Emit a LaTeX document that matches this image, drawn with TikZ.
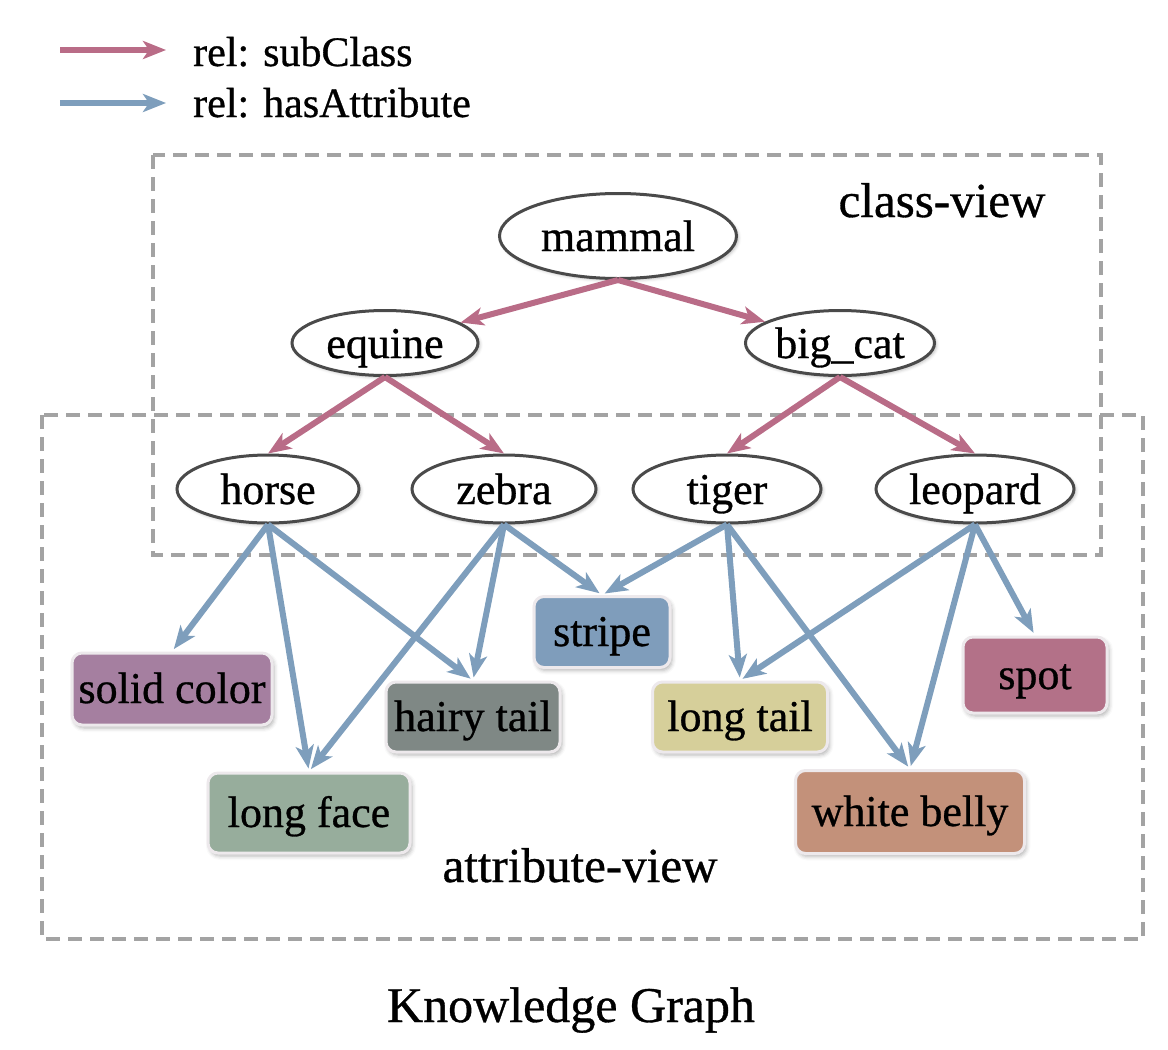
\documentclass[tikz,border=0pt]{standalone}
\usepackage{fontspec}
\setmainfont{Liberation Serif}[FakeBold=0.7]
\usetikzlibrary{arrows.meta,shapes.geometric,shadows,shadows.blur}
\definecolor{relred}{HTML}{B96C87}
\definecolor{relblue}{HTML}{7E9EBC}
\definecolor{ellgray}{HTML}{4A4A4A}
\definecolor{viewgray}{HTML}{A3A3A3}
\definecolor{boxborder}{HTML}{EDE9EC}
\definecolor{csolid}{HTML}{A57FA0}
\definecolor{chairy}{HTML}{7F8885}
\definecolor{cface}{HTML}{97AD9C}
\definecolor{cstripe}{HTML}{7F9DBB}
\definecolor{ctail}{HTML}{D6CF9A}
\definecolor{cspot}{HTML}{B37188}
\definecolor{cbelly}{HTML}{C3917A}
\begin{document}
\begin{tikzpicture}[x=1pt,y=-1pt,
  cls/.style={ellipse, draw=ellgray, line width=3pt, fill=white, inner sep=0pt,
    font=\fontsize{44}{50}\selectfont, text height=30pt, text depth=0pt,
    blur shadow={shadow xshift=2pt, shadow yshift=-2pt, shadow blur radius=3pt, shadow opacity=25}},
  attr/.style={rectangle, rounded corners=10pt, draw=boxborder, line width=3pt, inner sep=0pt,
    font=\fontsize{44}{50}\selectfont, text height=28pt, text depth=0pt,
    blur shadow={shadow xshift=2pt, shadow yshift=-3pt, shadow blur radius=4pt, shadow opacity=30}},
  sub/.style={draw=relred, line width=6pt, -{Stealth[length=23pt,width=18pt,inset=6pt]}},
  has/.style={draw=relblue, line width=6pt, shorten >=3pt, -{Stealth[length=23pt,width=18pt,inset=6pt]}},
  view/.style={draw=viewgray, line width=3.5pt, dash pattern=on 14pt off 8pt},
  lbl/.style={anchor=base, inner sep=0pt},
]
\useasboundingbox (0,0) rectangle (1168,1050);

% view frames
\draw[view] (153,155) rectangle (1101,555);
\draw[view] (42,415) rectangle (1143,939);
\node[lbl, font=\fontsize{49}{55}\selectfont] (cv) at (942,217) {class-view};
\node[lbl, font=\fontsize{49}{55}\selectfont] (av) at (580,882) {attribute-view};
\node[lbl, font=\fontsize{50}{56}\selectfont] (kg) at (571,1022) {Knowledge Graph};

% legend
\coordinate (lra) at (60,50);
\coordinate (lrb) at (166,50);
\coordinate (lba) at (60,103);
\coordinate (lbb) at (166,103);
\draw[sub] (lra) -- (lrb);
\draw[draw=relblue, line width=6pt, -{Stealth[length=23pt,width=18pt,inset=6pt]}] (lba) -- (lbb);
\node[anchor=base west, inner sep=0pt, font=\fontsize{42}{48}\selectfont] (leg1) at (193,66) {rel: subClass};
\node[anchor=base west, inner sep=0pt, font=\fontsize{42}{48}\selectfont] (leg2) at (193,117) {rel: hasAttribute};

% class nodes
\node[cls, minimum width=237pt, minimum height=85pt] (mammal) at (618,236) {mammal};
\node[cls, minimum width=186pt, minimum height=65pt] (equine) at (385,343) {equine};
\node[cls, minimum width=189pt, minimum height=65pt] (bigcat) at (840,343) {big\_cat};
\node[cls, minimum width=182pt, minimum height=68pt] (horse) at (268,489) {horse};
\node[cls, minimum width=184pt, minimum height=68pt] (zebra) at (504,489) {zebra};
\node[cls, minimum width=188pt, minimum height=68pt] (tiger) at (727,489) {tiger};
\node[cls, minimum width=198pt, minimum height=68pt] (leopard) at (975,489) {leopard};

% attribute nodes
\node[attr, fill=csolid, minimum width=200pt, minimum height=72pt] (solid) at (172,689) {solid color};
\node[attr, fill=chairy, minimum width=174pt, minimum height=70pt] (hairy) at (473,717) {hairy tail};
\node[attr, fill=cface, minimum width=202pt, minimum height=80pt] (face) at (309,813) {long face};
\node[attr, fill=cstripe, minimum width=136pt, minimum height=71pt] (stripe) at (602,632) {stripe};
\node[attr, fill=ctail, minimum width=175pt, minimum height=70pt] (ltail) at (740,717) {long tail};
\node[attr, fill=cspot, minimum width=144pt, minimum height=76pt] (spot) at (1035,675) {spot};
\node[attr, fill=cbelly, minimum width=229pt, minimum height=83pt] (belly) at (910,812) {white belly};

% subClass
\draw[sub] (mammal.south) -- (equine);
\draw[sub] (mammal.south) -- (bigcat);
\draw[sub] (equine.south) -- (horse.north);
\draw[sub] (equine.south) -- (zebra.north);
\draw[sub] (bigcat.south) -- (tiger.north);
\draw[sub] (bigcat.south) -- (leopard.north);

% hasAttribute
\draw[has] (horse.south) -- (solid.north);
\draw[has] (horse.south) -- (face.north);
\draw[has] (horse.south) -- (hairy.north);
\draw[has] (zebra.south) -- (face.north);
\draw[has] (zebra.south) -- (hairy.north);
\draw[has] (zebra.south) -- (stripe.north);
\draw[has] (tiger.south) -- (stripe.north);
\draw[has] (tiger.south) -- (ltail.north);
\draw[has] (tiger.south) -- (belly.north);
\draw[has] (leopard.south) -- (ltail.north);
\draw[has] (leopard.south) -- (belly.north);
\draw[has] (leopard.south) -- (spot.north);
\end{tikzpicture}
\end{document}
